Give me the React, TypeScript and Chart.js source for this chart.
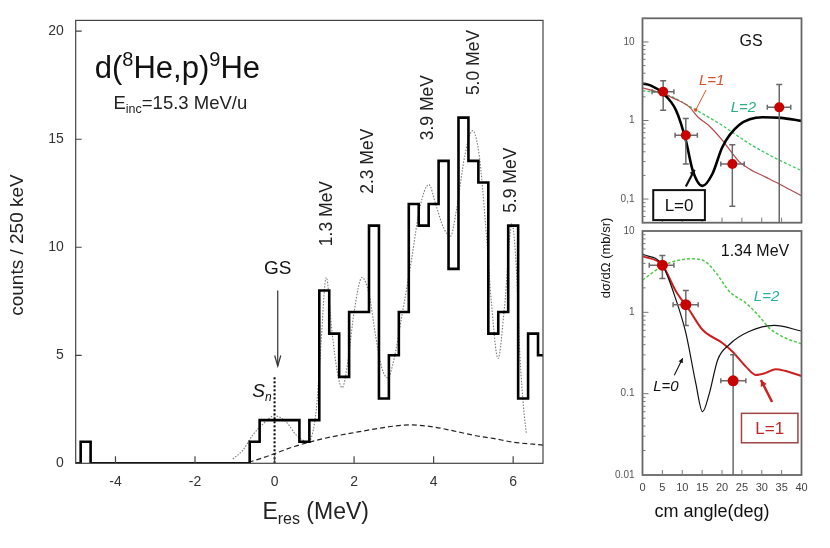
import { useEffect, useRef } from 'react';
import Chart from 'chart.js/auto';

const FONT = '"Liberation Sans", Arial, sans-serif';
Chart.defaults.font.family = FONT;
Chart.defaults.color = '#333';

// ---- left panel: d(8He,p)9He missing-mass spectrum ----
const binLow = -5.125; // lower edge of first 250 keV bin (MeV)
const binWidth = 0.25;
const counts = [
  0, 1, 0, 0, 0, 0, 0, 0, 0, 0, 0, 0, 0, 0, 0, 0, 0, 0,
  1, 2, 2, 2, 2, 1, 2, 8, 6, 4, 7, 7, 11, 3, 5, 7, 12, 11,
  12, 14, 9, 16, 14, 13, 6, 7, 11, 3, 6, 5,
];

// dotted fit (sum of resonances)
const fitE = [-1.05, -0.8, -0.55, -0.3, 0, 0.3, 0.55, 0.85, 1.05, 1.15, 1.3, 1.45, 1.58, 1.7, 1.85, 2.0, 2.2, 2.38, 2.55, 2.7, 2.85, 3.0, 3.2, 3.45, 3.65, 3.88, 4.05, 4.25, 4.42, 4.58, 4.78, 4.98, 5.15, 5.3, 5.45, 5.62, 5.78, 5.97, 6.08, 6.17, 6.26, 6.33];
const fitCounts = [0.2, 0.6, 1.3, 1.8, 2.2, 1.9, 1.3, 1.0, 2.5, 5.0, 8.6, 6.0, 4.2, 3.5, 4.8, 7.0, 8.6, 7.8, 5.8, 4.4, 3.95, 4.8, 6.8, 9.5, 11.8, 12.9, 12.0, 10.9, 10.5, 11.8, 14.2, 15.4, 14.2, 11.2, 7.5, 4.85, 7.2, 11.1, 9.0, 5.0, 2.6, 1.4];

// dashed background (phase space)
const bgE = [-0.65, -0.3, 0, 0.5, 1.0, 1.5, 2.0, 2.5, 3.0, 3.4, 4.0, 4.5, 5.0, 5.5, 6.0, 6.75];
const bgCounts = [0.05, 0.25, 0.45, 0.78, 1.04, 1.25, 1.42, 1.58, 1.72, 1.78, 1.68, 1.5, 1.3, 1.15, 0.98, 0.84];

// neutron threshold marker
const snE = [0, 0];
const snCounts = [0, 4.05];

const eTicks = [-4, -2, 0, 2, 4, 6];
const countTicks = [0, 5, 10, 15, 20];

// ---- right panels: angular distributions ----
const angleTicks = [0, 5, 10, 15, 20, 25, 30, 35, 40];

// GS data
const gsAngle = [5.2, 10.9, 22.6, 34.4];
const gsXs = [2.32, 0.65, 0.28, 1.47];
const gsXsLow = [1.35, 0.28, 0.081, 0.001];
const gsXsHigh = [3.2, 1.06, 0.49, 2.87];
const gsAngleLow = [2.4, 8.2, 19.7, 31.4];
const gsAngleHigh = [7.9, 13.8, 25.6, 37.3];

const gsL0Angle = [0, 2, 5, 8.4, 10.9, 12.6, 15.1, 17.6, 20.1, 24.3, 30.2, 34.8, 40];
const gsL0 = [2.95, 2.8, 2.25, 1.36, 0.56, 0.234, 0.147, 0.21, 0.46, 0.875, 1.1, 1.08, 0.99];
const gsL1Angle = [0, 5, 8, 11.7, 14, 16.8, 20.1, 24.3, 27, 31, 35, 40];
const gsL1 = [2.6, 2.2, 1.9, 1.5, 1.1, 0.85, 0.56, 0.3, 0.24, 0.19, 0.15, 0.11];
const gsL2Angle = [0, 5, 7.5, 11, 15, 20, 26.8, 33.5, 40];
const gsL2 = [2.4, 2.2, 2.0, 1.6, 1.23, 0.87, 0.51, 0.33, 0.23];

// 1.34 MeV data
const exAngle = [5.0, 10.9, 22.8];
const exXs = [3.8, 1.24, 0.144];
const exXsLow = [2.6, 0.69, 0.001];
const exXsHigh = [5.0, 1.85, 0.3];
const exAngleLow = [1.7, 7.7, 19.7];
const exAngleHigh = [7.9, 14.0, 26.0];

const exL0Angle = [0, 5, 8.4, 10.9, 13.4, 15.1, 16.8, 18.9, 21.8, 26.8, 33.1, 40];
const exL0 = [5.2, 3.8, 1.44, 0.56, 0.135, 0.06, 0.1, 0.26, 0.4, 0.58, 0.69, 0.59];
const exL1Angle = [0, 5, 8.4, 11.7, 15.1, 20.1, 22.6, 26, 28.5, 31, 33.5, 36, 40];
const exL1 = [4.9, 3.8, 1.82, 1.08, 0.61, 0.42, 0.33, 0.215, 0.17, 0.18, 0.2, 0.19, 0.165];
const exL2Angle = [0, 5, 8.4, 12.6, 15.5, 18.5, 21.8, 26, 29.4, 31.9, 36.1, 40];
const exL2 = [2.5, 3.7, 4.3, 4.55, 4.3, 3.06, 1.82, 1.3, 0.89, 0.64, 0.48, 0.41];

const pairs = (xs: number[], ys: number[]) => xs.map((x, i) => ({ x, y: ys[i] }));

type Seg = [string, number, number?];
function rich(ctx: CanvasRenderingContext2D, segs: Seg[], x: number, y: number, center = false, style = '') {
  const widths = segs.map(([t, s]) => {
    ctx.font = `${style} ${s}px ${FONT}`;
    return ctx.measureText(t).width;
  });
  let cx = center ? x - widths.reduce((a, b) => a + b, 0) / 2 : x;
  ctx.textAlign = 'left';
  ctx.textBaseline = 'alphabetic';
  segs.forEach(([t, s, dy = 0], i) => {
    ctx.font = `${style} ${s}px ${FONT}`;
    ctx.fillText(t, cx, y + dy);
    cx += widths[i];
  });
}

function vtext(ctx: CanvasRenderingContext2D, t: string, x: number, y: number, font: string) {
  ctx.save();
  ctx.translate(x, y);
  ctx.rotate(-Math.PI / 2);
  ctx.font = font;
  ctx.textAlign = 'center';
  ctx.textBaseline = 'middle';
  ctx.fillText(t, 0, 0);
  ctx.restore();
}

function arrow(ctx: CanvasRenderingContext2D, x1: number, y1: number, x2: number, y2: number, head: number, spread: number, filled: boolean) {
  ctx.beginPath();
  ctx.moveTo(x1, y1);
  ctx.lineTo(x2, y2);
  ctx.stroke();
  const a = Math.atan2(y2 - y1, x2 - x1);
  const p1x = x2 - head * Math.cos(a - spread), p1y = y2 - head * Math.sin(a - spread);
  const p2x = x2 - head * Math.cos(a + spread), p2y = y2 - head * Math.sin(a + spread);
  ctx.beginPath();
  ctx.moveTo(p1x, p1y);
  ctx.lineTo(x2, y2);
  ctx.lineTo(p2x, p2y);
  if (filled) {
    ctx.closePath();
    ctx.fill();
  } else ctx.stroke();
}

const fixSize = (w?: number, h?: number) => (scale: any) => {
  if (w !== undefined) scale.width = w;
  if (h !== undefined) scale.height = h;
};
const setTicks = (vals: number[]) => (scale: any) => {
  scale.ticks = vals.map((value) => ({ value }));
};
const noGrid = { display: false, drawTicks: false };

const peakLabels = [
  { t: '1.3 MeV', e: 1.32, c: 11.56 },
  { t: '2.3 MeV', e: 2.35, c: 13.98 },
  { t: '3.9 MeV', e: 3.86, c: 16.46 },
  { t: '5.0 MeV', e: 5.03, c: 18.55 },
  { t: '5.9 MeV', e: 5.95, c: 13.1 },
];

const mainDecor = {
  id: 'mainDecor',
  afterDraw(chart: any) {
    const { ctx, chartArea: a } = chart;
    const x = chart.scales.x, y = chart.scales.y;
    const px = (v: number) => x.getPixelForValue(v);
    const py = (v: number) => y.getPixelForValue(v);
    ctx.save();
    ctx.strokeStyle = '#444';
    ctx.lineWidth = 1.2;
    ctx.strokeRect(a.left, a.top, a.right - a.left, a.bottom - a.top);
    ctx.beginPath();
    eTicks.forEach((v) => { ctx.moveTo(px(v), a.bottom); ctx.lineTo(px(v), a.bottom - 7); });
    countTicks.forEach((v) => { ctx.moveTo(a.left, py(v)); ctx.lineTo(a.left + 6, py(v)); });
    ctx.stroke();

    ctx.fillStyle = '#111';
    rich(ctx, [['d(', 31], ['8', 20, -12], ['He,p)', 31], ['9', 20, -12], ['He', 31]], px(-4.52), py(17.83));
    ctx.fillStyle = '#222';
    rich(ctx, [['E', 18.5], ['inc', 12.5, 4], ['=15.3 MeV/u', 18.5]], px(-4.05), py(16.38));

    peakLabels.forEach((l) => vtext(ctx, l.t, px(l.e), py(l.c), `17.5px ${FONT}`));

    ctx.fillStyle = '#111';
    ctx.font = `19px ${FONT}`;
    ctx.textAlign = 'center';
    ctx.textBaseline = 'middle';
    ctx.fillText('GS', px(0.08), py(9.0));
    ctx.strokeStyle = '#333';
    ctx.lineWidth = 1.2;
    arrow(ctx, px(0.08), py(8.0), px(0.08), py(4.5), 11, 0.28, false);

    rich(ctx, [['S', 19], ['n', 12, 4]], px(-0.56), py(3.05), false, 'italic');

    ctx.fillStyle = '#222';
    rich(ctx, [['E', 23], ['res', 16, 5], [' (MeV)', 23]], a.left + 240, a.bottom + 56, true);
    vtext(ctx, 'counts / 250 keV', 18, 245, `19px ${FONT}`);
    ctx.restore();
  },
};

function panelDecor(id: string, errs: { ang: number[]; lo: number[]; hi: number[]; aLo: number[]; aHi: number[]; val: number[] }, minor: number[], drawExtra: (ctx: CanvasRenderingContext2D, px: (v: number) => number, py: (v: number) => number, chart: any) => void) {
  return {
    id,
    beforeDatasetDraw(chart: any, args: any) {
      if (args.index !== 0) return;
      const { ctx, chartArea: a } = chart;
      const px = (v: number) => chart.scales.x.getPixelForValue(v);
      const py = (v: number) => chart.scales.y.getPixelForValue(v);
      ctx.save();
      ctx.beginPath();
      ctx.rect(a.left, a.top, a.right - a.left, a.bottom - a.top);
      ctx.clip();
      ctx.strokeStyle = '#6a6a6a';
      ctx.lineWidth = 1.5;
      ctx.beginPath();
      errs.ang.forEach((ang, i) => {
        const x0 = px(ang), y0 = py(errs.val[i]);
        const yl = Math.min(py(errs.lo[i]), a.bottom + 2), yh = py(errs.hi[i]);
        ctx.moveTo(x0, yl); ctx.lineTo(x0, yh);
        ctx.moveTo(x0 - 3, yh); ctx.lineTo(x0 + 3, yh);
        if (yl < a.bottom) { ctx.moveTo(x0 - 3, yl); ctx.lineTo(x0 + 3, yl); }
        const xl = px(errs.aLo[i]), xh = px(errs.aHi[i]);
        ctx.moveTo(xl, y0); ctx.lineTo(xh, y0);
        ctx.moveTo(xl, y0 - 2.5); ctx.lineTo(xl, y0 + 2.5);
        ctx.moveTo(xh, y0 - 2.5); ctx.lineTo(xh, y0 + 2.5);
      });
      ctx.stroke();
      ctx.restore();
    },
    afterDraw(chart: any) {
      const { ctx, chartArea: a } = chart;
      const px = (v: number) => chart.scales.x.getPixelForValue(v);
      const py = (v: number) => chart.scales.y.getPixelForValue(v);
      ctx.save();
      ctx.strokeStyle = '#666';
      ctx.lineWidth = 1.8;
      ctx.strokeRect(a.left, a.top, a.right - a.left, a.bottom - a.top);
      ctx.lineWidth = 1;
      ctx.strokeStyle = '#777';
      ctx.beginPath();
      angleTicks.slice(1, -1).forEach((v) => { ctx.moveTo(px(v), a.bottom); ctx.lineTo(px(v), a.bottom - 5); });
      minor.forEach((v) => {
        const major = Math.abs(Math.log10(v) - Math.round(Math.log10(v))) < 1e-6;
        ctx.moveTo(a.left, py(v)); ctx.lineTo(a.left + (major ? 6 : 3), py(v));
      });
      ctx.stroke();
      drawExtra(ctx, px, py, chart);
      ctx.restore();
    },
  };
}

const logMarks = (lo: number, hi: number) => {
  const out: number[] = [];
  for (let d = 0.01; d < 100; d *= 10) for (let k = 1; k <= 9; k++) {
    const v = Number((k * d).toPrecision(3));
    if (v >= lo && v <= hi) out.push(v);
  }
  return out;
};

const curve = (data: { x: number; y: number }[], color: string, width: number, dash: number[] = []) => ({
  data,
  borderColor: color,
  borderWidth: width,
  borderDash: dash,
  pointRadius: 0,
  cubicInterpolationMode: 'monotone' as const,
  fill: false,
});

const pointsSet = (data: { x: number; y: number }[], r: number) => ({
  data,
  showLine: false,
  pointRadius: r,
  pointBackgroundColor: '#c80000',
  pointBorderColor: '#b00000',
  borderWidth: 0,
});

export default function App() {
  const mainRef = useRef<HTMLCanvasElement>(null);
  const gsRef = useRef<HTMLCanvasElement>(null);
  const exRef = useRef<HTMLCanvasElement>(null);

  useEffect(() => {
    if (!mainRef.current || !gsRef.current || !exRef.current) return;
    const hist = counts.map((c, i) => ({ x: binLow + i * binWidth, y: c }));
    hist.push({ x: binLow + counts.length * binWidth, y: counts[counts.length - 1] });

    const main = new Chart(mainRef.current, {
      type: 'line',
      data: {
        datasets: [
          { data: hist, stepped: true, borderColor: '#000', borderWidth: 2.6, pointRadius: 0, fill: false } as any,
          curve(pairs(fitE, fitCounts), '#7a7a7a', 1.1, [1.5, 1.5]),
          curve(pairs(bgE, bgCounts), '#222', 1.2, [5, 3]),
          { data: pairs(snE, snCounts), borderColor: '#000', borderWidth: 2, borderDash: [2, 2], pointRadius: 0 },
        ],
      },
      options: {
        responsive: false,
        animation: false,
        layout: { padding: { left: 35.7, top: 15, right: 287, bottom: 44.7 } },
        plugins: { legend: { display: false }, tooltip: { enabled: false } },
        scales: {
          x: {
            type: 'linear', min: -5, max: 6.75,
            afterBuildTicks: setTicks(eTicks), afterFit: fixSize(undefined, 40),
            grid: noGrid, border: { display: false },
            ticks: { font: { size: 14 }, color: '#333', padding: 10, maxRotation: 0 },
          },
          y: {
            min: 0, max: 20.5,
            afterBuildTicks: setTicks(countTicks), afterFit: fixSize(40),
            grid: noGrid, border: { display: false },
            ticks: { font: { size: 14 }, color: '#333', padding: 12 },
          },
        },
      },
      plugins: [mainDecor],
    });

    const logLabel = (comma: boolean) => (v: any) => {
      if (v === 10) return '10';
      if (v === 1) return '1';
      if (v === 0.1) return comma ? '0,1' : '0.1';
      if (v === 0.01) return '0.01';
      return '';
    };

    const gs = new Chart(gsRef.current, {
      type: 'line',
      data: {
        datasets: [
          pointsSet(pairs(gsAngle, gsXs), 5),
          curve(pairs(gsL0Angle, gsL0), '#000', 2.6),
          curve(pairs(gsL1Angle, gsL1), '#b24a4e', 1.2),
          curve(pairs(gsL2Angle, gsL2), '#3cc860', 1.3, [3, 2]),
        ],
      },
      options: {
        responsive: false,
        animation: false,
        layout: { padding: { left: 602.5, top: 18.3, right: 28.5, bottom: 315.3 } },
        plugins: { legend: { display: false }, tooltip: { enabled: false } },
        scales: {
          x: {
            type: 'linear', min: 0, max: 40,
            afterBuildTicks: setTicks(angleTicks), afterFit: fixSize(undefined, 10),
            grid: noGrid, border: { display: false }, ticks: { display: false },
          },
          y: {
            type: 'logarithmic', min: 0.05, max: 20,
            afterBuildTicks: setTicks([0.1, 1, 10]), afterFit: fixSize(40),
            grid: noGrid, border: { display: false },
            ticks: { font: { size: 10 }, color: '#555', padding: 8, autoSkip: false, callback: logLabel(true) },
          },
        },
      },
      plugins: [panelDecor('gsDecor', { ang: gsAngle, val: gsXs, lo: gsXsLow, hi: gsXsHigh, aLo: gsAngleLow, aHi: gsAngleHigh }, logMarks(0.05, 20), (ctx, px, py) => {
        ctx.fillStyle = '#111';
        ctx.font = `16px ${FONT}`;
        ctx.textAlign = 'center';
        ctx.textBaseline = 'middle';
        ctx.fillText('GS', px(27.3), py(10));
        ctx.font = `italic 15px ${FONT}`;
        ctx.fillStyle = '#d8532c';
        ctx.fillText('L=1', px(17.4), py(3.16));
        ctx.strokeStyle = '#d8532c';
        ctx.lineWidth = 1;
        ctx.beginPath();
        ctx.moveTo(px(13.4), py(1.36));
        ctx.lineTo(px(16.0), py(2.45));
        ctx.stroke();
        ctx.beginPath();
        ctx.arc(px(13.4), py(1.36), 1.8, 0, Math.PI * 2);
        ctx.fill();
        ctx.fillStyle = '#27b07e';
        ctx.fillText('L=2', px(25.4), py(1.47));
        // boxed L=0
        const bx = px(2.7), by = py(0.13), bw = px(15.7) - px(2.7), bh = py(0.054) - py(0.13);
        ctx.fillStyle = '#fff';
        ctx.fillRect(bx, by, bw, bh);
        ctx.strokeStyle = '#111';
        ctx.lineWidth = 2;
        ctx.strokeRect(bx, by, bw, bh);
        ctx.fillStyle = '#111';
        ctx.font = `17px ${FONT}`;
        ctx.fillText('L=0', bx + bw / 2, by + bh / 2 + 1);
        ctx.strokeStyle = '#111';
        ctx.lineWidth = 2.2;
        arrow(ctx, px(10.9), py(0.144), px(13.1), py(0.236), 6, 0.5, true);
      })],
    });

    const ex = new Chart(exRef.current, {
      type: 'line',
      data: {
        datasets: [
          pointsSet(pairs(exAngle, exXs), 5.5),
          curve(pairs(exL0Angle, exL0), '#111', 1.2),
          curve(pairs(exL1Angle, exL1), '#cc2020', 2),
          curve(pairs(exL2Angle, exL2), '#4ccc48', 1.5, [3, 2]),
        ],
      },
      options: {
        responsive: false,
        animation: false,
        layout: { padding: { left: 602.5, top: 231, right: 28.5, bottom: 43 } },
        plugins: { legend: { display: false }, tooltip: { enabled: false } },
        scales: {
          x: {
            type: 'linear', min: 0, max: 40,
            afterBuildTicks: setTicks(angleTicks), afterFit: fixSize(undefined, 30),
            grid: noGrid, border: { display: false },
            ticks: { font: { size: 11 }, color: '#444', padding: 6, maxRotation: 0, autoSkip: false },
          },
          y: {
            type: 'logarithmic', min: 0.01, max: 10,
            afterBuildTicks: setTicks([0.01, 0.1, 1, 10]), afterFit: fixSize(40),
            grid: noGrid, border: { display: false },
            ticks: { font: { size: 10 }, color: '#555', padding: 8, autoSkip: false, callback: logLabel(false) },
          },
        },
      },
      plugins: [panelDecor('exDecor', { ang: exAngle, val: exXs, lo: exXsLow, hi: exXsHigh, aLo: exAngleLow, aHi: exAngleHigh }, logMarks(0.01, 10), (ctx, px, py, chart) => {
        ctx.fillStyle = '#111';
        ctx.font = `16px ${FONT}`;
        ctx.textAlign = 'center';
        ctx.textBaseline = 'middle';
        ctx.fillText('1.34 MeV', px(28.3), py(5.56));
        ctx.font = `italic 15px ${FONT}`;
        ctx.fillStyle = '#27b0a0';
        ctx.fillText('L=2', px(31.2), py(1.53));
        ctx.fillStyle = '#111';
        ctx.fillText('L=0', px(5.9), py(0.122));
        ctx.strokeStyle = '#111';
        ctx.lineWidth = 1.1;
        arrow(ctx, px(8.0), py(0.169), px(10.1), py(0.272), 5, 0.5, true);
        // boxed L=1
        const bx = px(24.9), by = py(0.0573), bw = px(39.1) - px(24.9), bh = py(0.0249) - py(0.0573);
        ctx.fillStyle = '#fff';
        ctx.fillRect(bx, by, bw, bh);
        ctx.strokeStyle = '#a04444';
        ctx.lineWidth = 1.5;
        ctx.strokeRect(bx, by, bw, bh);
        ctx.fillStyle = '#c02828';
        ctx.font = `17px ${FONT}`;
        ctx.fillText('L=1', bx + bw / 2, by + bh / 2 + 1);
        ctx.strokeStyle = '#cc2222';
        ctx.fillStyle = '#cc2222';
        ctx.lineWidth = 2.5;
        arrow(ctx, px(32.6), py(0.079), px(29.8), py(0.147), 7, 0.5, true);

        const a = chart.chartArea;
        ctx.fillStyle = '#111';
        ctx.font = `18px ${FONT}`;
        ctx.fillText('cm angle(deg)', (a.left + a.right) / 2 - 10, a.bottom + 37);
        vtext(ctx, 'd\u03c3/d\u03a9 (mb/sr)', a.left - 36, a.top + 27, `13px ${FONT}`);
      })],
    });

    return () => {
      main.destroy();
      gs.destroy();
      ex.destroy();
    };
  }, []);

  const cv = { position: 'absolute' as const, left: 0, top: 0 };
  return (
    <div style={{ position: 'absolute', left: 0, top: 0, width: 830, height: 548, background: '#fff', overflow: 'hidden' }}>
      <canvas ref={mainRef} width={830} height={548} style={cv} />
      <canvas ref={gsRef} width={830} height={548} style={cv} />
      <canvas ref={exRef} width={830} height={548} style={cv} />
    </div>
  );
}
